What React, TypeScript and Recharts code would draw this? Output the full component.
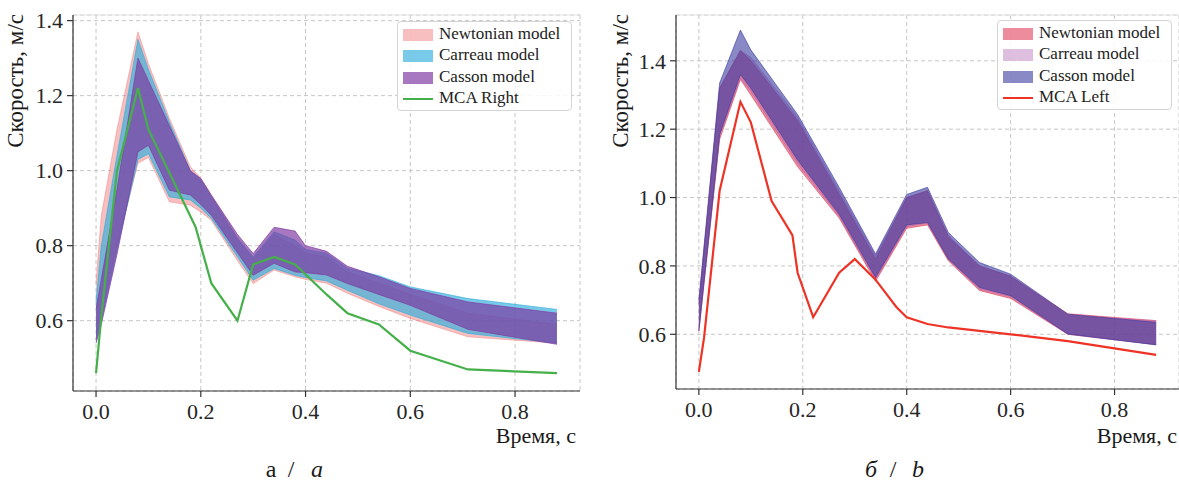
import React from "react";
import {
  ComposedChart,
  Area,
  Line,
  XAxis,
  YAxis,
  CartesianGrid,
  ReferenceLine,
} from "recharts";

// ---------- Panel a: MCA Right ----------
const timeLeft = [0, 0.01, 0.04, 0.08, 0.1, 0.14, 0.18, 0.2, 0.22, 0.27, 0.3, 0.34, 0.38, 0.4, 0.44, 0.48, 0.54, 0.6, 0.71, 0.88];
const newtonLeftLo = [0.55, 0.62, 0.8, 1.02, 1.035, 0.917, 0.908, 0.89, 0.868, 0.76, 0.699, 0.735, 0.717, 0.71, 0.7, 0.673, 0.638, 0.606, 0.557, 0.54];
const newtonLeftHi = [0.7, 0.88, 1.11, 1.37, 1.285, 1.14, 1.01, 0.98, 0.935, 0.82, 0.765, 0.83, 0.8, 0.78, 0.77, 0.73, 0.7, 0.67, 0.62, 0.59];
const carreauLeftLo = [0.55, 0.6, 0.79, 1.03, 1.045, 0.93, 0.922, 0.9, 0.873, 0.77, 0.708, 0.739, 0.721, 0.715, 0.706, 0.681, 0.645, 0.615, 0.566, 0.54];
const carreauLeftHi = [0.65, 0.8, 1.04, 1.35, 1.27, 1.13, 1.0, 0.975, 0.93, 0.82, 0.77, 0.837, 0.815, 0.79, 0.78, 0.74, 0.72, 0.69, 0.659, 0.63];
const cassonLeftLo = [0.54, 0.59, 0.777, 1.05, 1.068, 0.948, 0.935, 0.91, 0.881, 0.781, 0.721, 0.753, 0.73, 0.728, 0.722, 0.699, 0.67, 0.641, 0.577, 0.537];
const cassonLeftHi = [0.63, 0.71, 0.95, 1.3, 1.24, 1.12, 1.0, 0.979, 0.935, 0.83, 0.779, 0.849, 0.839, 0.8, 0.785, 0.745, 0.717, 0.686, 0.65, 0.62];

const mcaRightTime = [0, 0.01, 0.04, 0.08, 0.1, 0.19, 0.22, 0.27, 0.3, 0.34, 0.38, 0.44, 0.48, 0.54, 0.6, 0.71, 0.88];
const mcaRightSpeed = [0.46, 0.61, 1.0, 1.22, 1.11, 0.85, 0.7, 0.6, 0.75, 0.77, 0.75, 0.67, 0.62, 0.59, 0.52, 0.47, 0.46];

// ---------- Panel б: MCA Left ----------
const timeRight = [0, 0.04, 0.08, 0.1, 0.19, 0.27, 0.34, 0.4, 0.44, 0.48, 0.54, 0.6, 0.71, 0.88];
const newtonRightLo = [0.61, 1.17, 1.345, 1.3, 1.09, 0.94, 0.755, 0.91, 0.92, 0.815, 0.728, 0.705, 0.6, 0.57];
const newtonRightHi = [0.69, 1.32, 1.43, 1.4, 1.225, 1.01, 0.82, 1.0, 1.02, 0.885, 0.8, 0.77, 0.66, 0.64];
const carreauRightLo = [0.61, 1.18, 1.35, 1.31, 1.1, 0.945, 0.76, 0.915, 0.925, 0.82, 0.732, 0.71, 0.6, 0.57];
const carreauRightHi = [0.69, 1.32, 1.43, 1.41, 1.235, 1.02, 0.83, 1.0, 1.02, 0.89, 0.8, 0.77, 0.655, 0.64];
const cassonRightLo = [0.61, 1.184, 1.36, 1.32, 1.11, 0.951, 0.766, 0.92, 0.927, 0.82, 0.737, 0.713, 0.601, 0.569];
const cassonRightHi = [0.7, 1.335, 1.49, 1.432, 1.243, 1.03, 0.835, 1.009, 1.03, 0.898, 0.81, 0.776, 0.659, 0.635];

const mcaLeftTime = [0, 0.01, 0.04, 0.08, 0.1, 0.14, 0.18, 0.19, 0.22, 0.27, 0.3, 0.34, 0.38, 0.4, 0.44, 0.48, 0.54, 0.6, 0.71, 0.88];
const mcaLeftSpeed = [0.49, 0.59, 1.02, 1.28, 1.22, 0.99, 0.89, 0.78, 0.65, 0.78, 0.82, 0.76, 0.68, 0.65, 0.63, 0.62, 0.61, 0.6, 0.58, 0.54];

const xTicks = [0, 0.2, 0.4, 0.6, 0.8];
const yTicks = [0.6, 0.8, 1.0, 1.2, 1.4];
const modelNames = ["Newtonian model", "Carreau model", "Casson model"];

const SERIF = "'Liberation Serif', 'Times New Roman', serif";

type Band = { lo: number[]; hi: number[] };

function bandRows(time: number[], bands: Band[]) {
  return time.map((t, i) => {
    const row: Record<string, number | number[]> = { t };
    bands.forEach((b, k) => {
      row["b" + k] = [b.lo[i], b.hi[i]];
    });
    return row;
  });
}

function lineRows(time: number[], values: number[]) {
  return time.map((t, i) => ({ t, v: values[i] }));
}

type Style = { color: string; opacity: number };

type PanelProps = {
  left: number;
  width: number;
  yAxisWidth: number;
  rightMargin: number;
  plotBottom: number;
  yDomain: [number, number];
  time: number[];
  bands: Band[];
  bandStyles: Style[];
  lineTime: number[];
  lineValues: number[];
  lineColor: string;
  lineName: string;
  legendLeft: number;
  legendTop: number;
};

function LegendBox({ styles, lineColor, lineName, left, top }: { styles: Style[]; lineColor: string; lineName: string; left: number; top: number }) {
  const rows = [...modelNames, lineName];
  return (
    <div
      style={{
        position: "absolute",
        left,
        top,
        width: 175,
        height: 90,
        boxSizing: "border-box",
        border: "1px solid #d4d4d4",
        borderRadius: 4,
        background: "rgba(255,255,255,0.85)",
        fontFamily: SERIF,
        fontSize: 17,
        color: "#222",
      }}
    >
      {rows.map((name, i) => {
        const cy = 13 + i * 21.3;
        return (
          <div key={name}>
            {i < 3 ? (
              <div
                style={{
                  position: "absolute",
                  left: 5,
                  top: cy - 6,
                  width: 30,
                  height: 12,
                  background: styles[i].color,
                  opacity: styles[i].opacity,
                }}
              />
            ) : (
              <div
                style={{
                  position: "absolute",
                  left: 5,
                  top: cy - 1,
                  width: 30,
                  height: 2,
                  background: lineColor,
                }}
              />
            )}
            <div
              style={{
                position: "absolute",
                left: 41,
                top: cy - 11,
                lineHeight: "20px",
                whiteSpace: "nowrap",
              }}
            >
              {name}
            </div>
          </div>
        );
      })}
    </div>
  );
}

function Panel(p: PanelProps) {
  const height = 481;
  const top = 15;
  const data = bandRows(p.time, p.bands);
  const lineData = lineRows(p.lineTime, p.lineValues);
  const tickStyle = { fill: "#262626", fontSize: 22, fontFamily: SERIF };
  return (
    <div style={{ position: "absolute", left: p.left, top: 0, width: p.width, height }}>
      <ComposedChart
        width={p.width}
        height={height}
        data={data}
        margin={{ top, right: p.rightMargin, bottom: 0, left: 0 }}
      >
        <CartesianGrid stroke="#c6c6c6" strokeDasharray="4 3" strokeWidth={1} />
        <XAxis
          dataKey="t"
          type="number"
          domain={[-0.044, 0.924]}
          ticks={xTicks}
          tickFormatter={(v: number) => v.toFixed(1)}
          height={height - p.plotBottom}
          allowDataOverflow
          stroke="#333"
          strokeWidth={1.2}
          tickSize={6}
          tickMargin={6}
          tick={tickStyle}
        />
        <YAxis
          type="number"
          domain={p.yDomain}
          ticks={yTicks}
          tickFormatter={(v: number) => v.toFixed(1)}
          width={p.yAxisWidth}
          allowDataOverflow
          stroke="#333"
          strokeWidth={1.2}
          tickSize={6}
          tickMargin={4}
          tick={tickStyle}
        />
        <ReferenceLine y={p.yDomain[1]} stroke="#e3e3e3" strokeWidth={1} />
        {p.bandStyles.map((s, k) => (
          <Area
            key={k}
            type="linear"
            dataKey={"b" + k}
            fill={s.color}
            fillOpacity={s.opacity}
            stroke={s.color}
            strokeOpacity={s.opacity}
            strokeWidth={1}
            dot={false}
            activeDot={false}
            isAnimationActive={false}
          />
        ))}
        <Line
          data={lineData}
          dataKey="v"
          type="linear"
          stroke={p.lineColor}
          strokeWidth={2.2}
          dot={false}
          activeDot={false}
          isAnimationActive={false}
        />
      </ComposedChart>
      <LegendBox
        styles={p.bandStyles}
        lineColor={p.lineColor}
        lineName={p.lineName}
        left={p.legendLeft}
        top={p.legendTop}
      />
    </div>
  );
}

const leftStyles: Style[] = [
  { color: "#f08080", opacity: 0.5 },
  { color: "#30aedc", opacity: 0.65 },
  { color: "#7e38a0", opacity: 0.68 },
];

const rightStyles: Style[] = [
  { color: "#e0405a", opacity: 0.6 },
  { color: "#b060b0", opacity: 0.4 },
  { color: "#3a3aa0", opacity: 0.6 },
];

export default function App() {
  const labelStyle = { fontFamily: SERIF, fontSize: 23, fill: "#1a1a1a" } as const;
  const xLabelStyle = { fontFamily: SERIF, fontSize: 22, fill: "#1a1a1a" } as const;
  const capStyle = { fontFamily: SERIF, fontSize: 24, fill: "#1a1a1a" } as const;
  return (
    <div style={{ position: "absolute", left: 0, top: 0, width: 1179, height: 481, background: "#fff", overflow: "hidden" }}>
      <Panel
        left={0}
        width={590}
        yAxisWidth={73}
        rightMargin={10}
        plotBottom={391}
        yDomain={[0.4125, 1.415]}
        time={timeLeft}
        bands={[
          { lo: newtonLeftLo, hi: newtonLeftHi },
          { lo: carreauLeftLo, hi: carreauLeftHi },
          { lo: cassonLeftLo, hi: cassonLeftHi },
        ]}
        bandStyles={leftStyles}
        lineTime={mcaRightTime}
        lineValues={mcaRightSpeed}
        lineColor="#45b04a"
        lineName="MCA Right"
        legendLeft={397}
        legendTop={21}
      />
      <Panel
        left={590}
        width={589}
        yAxisWidth={86}
        rightMargin={0}
        plotBottom={389}
        yDomain={[0.44, 1.534]}
        time={timeRight}
        bands={[
          { lo: newtonRightLo, hi: newtonRightHi },
          { lo: carreauRightLo, hi: carreauRightHi },
          { lo: cassonRightLo, hi: cassonRightHi },
        ]}
        bandStyles={rightStyles}
        lineTime={mcaLeftTime}
        lineValues={mcaLeftSpeed}
        lineColor="#ee3326"
        lineName="MCA Left"
        legendLeft={407}
        legendTop={20}
      />
      <svg
        width={1179}
        height={481}
        style={{ position: "absolute", left: 0, top: 0, pointerEvents: "none" }}
      >
        <text transform="translate(23,14) rotate(-90)" textAnchor="end" {...labelStyle}>
          Скорость, м/с
        </text>
        <text transform="translate(628,14) rotate(-90)" textAnchor="end" {...labelStyle}>
          Скорость, м/с
        </text>
        <text x={576} y={443} textAnchor="end" {...xLabelStyle}>
          Время, с
        </text>
        <text x={1177} y={443} textAnchor="end" {...xLabelStyle}>
          Время, с
        </text>
        <text x={271} y={477} textAnchor="middle" {...capStyle}>а</text>
        <text x={291} y={477} textAnchor="middle" {...capStyle}>/</text>
        <text x={317} y={477} textAnchor="middle" fontStyle="italic" {...capStyle}>a</text>
        <text x={871} y={477} textAnchor="middle" fontStyle="italic" {...capStyle}>б</text>
        <text x={893} y={477} textAnchor="middle" {...capStyle}>/</text>
        <text x={918} y={477} textAnchor="middle" fontStyle="italic" {...capStyle}>b</text>
      </svg>
    </div>
  );
}
